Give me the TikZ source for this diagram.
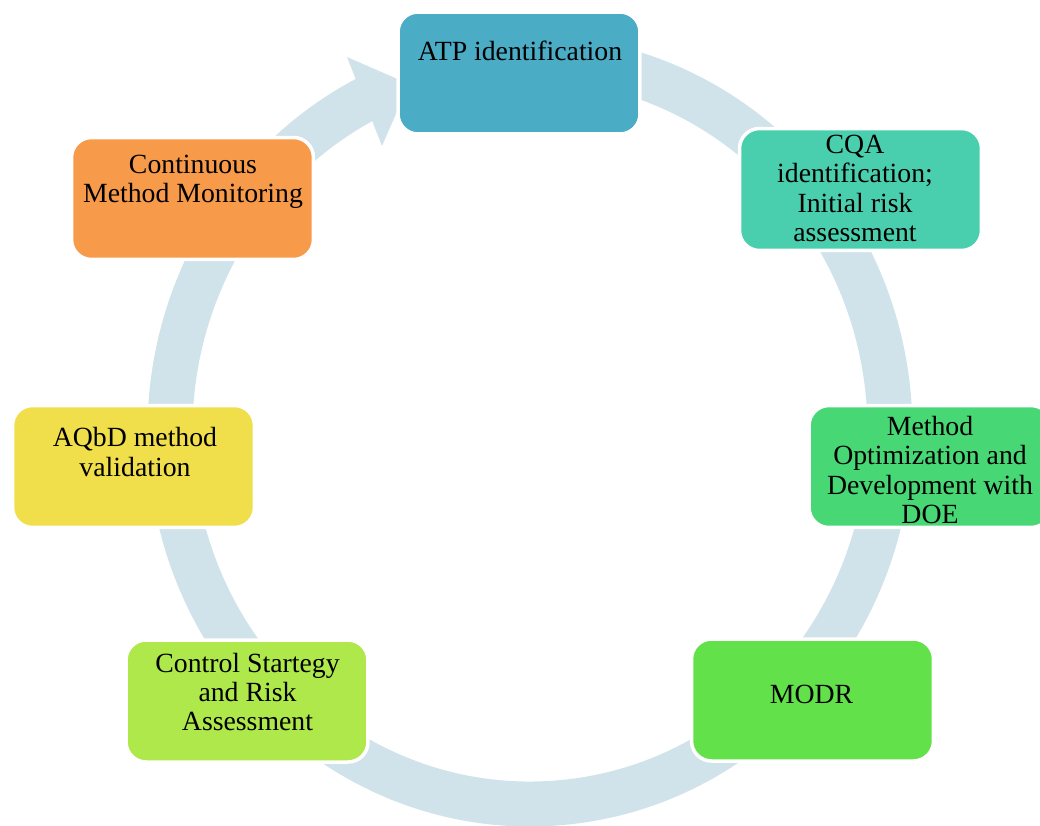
\documentclass[tikz,border=0pt]{standalone}
\usepackage{fontspec}
\setmainfont{Liberation Serif}
\definecolor{ringblue}{HTML}{D1E3EA}
\definecolor{atpblue}{HTML}{4BACC6}
\definecolor{cqateal}{HTML}{4ACFAE}
\definecolor{doegreen}{HTML}{48D775}
\definecolor{modrgreen}{HTML}{63E14B}
\definecolor{ctrlgreen}{HTML}{AEE84B}
\definecolor{valyellow}{HTML}{F0DF4A}
\definecolor{monorange}{HTML}{F79A4A}
\begin{document}
\begin{tikzpicture}[x=0.02cm, y=-0.02cm,
    box/.style={draw=white, line width=0.07cm, rounded corners=0.4cm,
        minimum width=4.84cm, minimum height=2.44cm, fill=#1},
    lbl/.style={align=center, inner sep=0pt,
        font=\fontsize{15.8}{16.6}\selectfont}]
\useasboundingbox (0,0) rectangle (1040,825);
% the cycle ring and its head
\draw[ringblue, line width=0.9cm] (530,431) ++(-95:360 and 373)
    arc[start angle=-95, end angle=244, x radius=360, y radius=373];
\fill[ringblue] (347,57) -- (409,84) -- (382,146) -- cycle;
% steps
\node[box=atpblue] (atp) at (519,73) {};
\node[box=cqateal] (cqa) at (860.5,189.5) {};
\node[box=doegreen] (doe) at (930,466.5) {};
\node[box=modrgreen] (modr) at (812.5,700) {};
\node[box=ctrlgreen] (ctrl) at (247,701) {};
\node[box=valyellow] (val) at (133.5,466.5) {};
\node[box=monorange] (mon) at (192.5,198.5) {};
% texts
\node[lbl] (atptxt) at (520,51) {ATP identification};
\node[lbl] (cqatxt) at (855,188.5) {CQA\\identification;\\Initial risk\\assessment};
\node[lbl] (doetxt) at (930,470) {Method\\Optimization and\\Development with\\DOE};
\node[lbl] (modrtxt) at (811.5,694) {MODR};
\node[lbl] (ctrltxt) at (247.5,692) {Control Startegy\\and Risk\\Assessment};
\node[lbl] (valtxt) at (135,452) {AQbD method\\validation};
\node[lbl] (montxt) at (193,182) {Continuous\\Method Monitoring};
\end{tikzpicture}
\end{document}
